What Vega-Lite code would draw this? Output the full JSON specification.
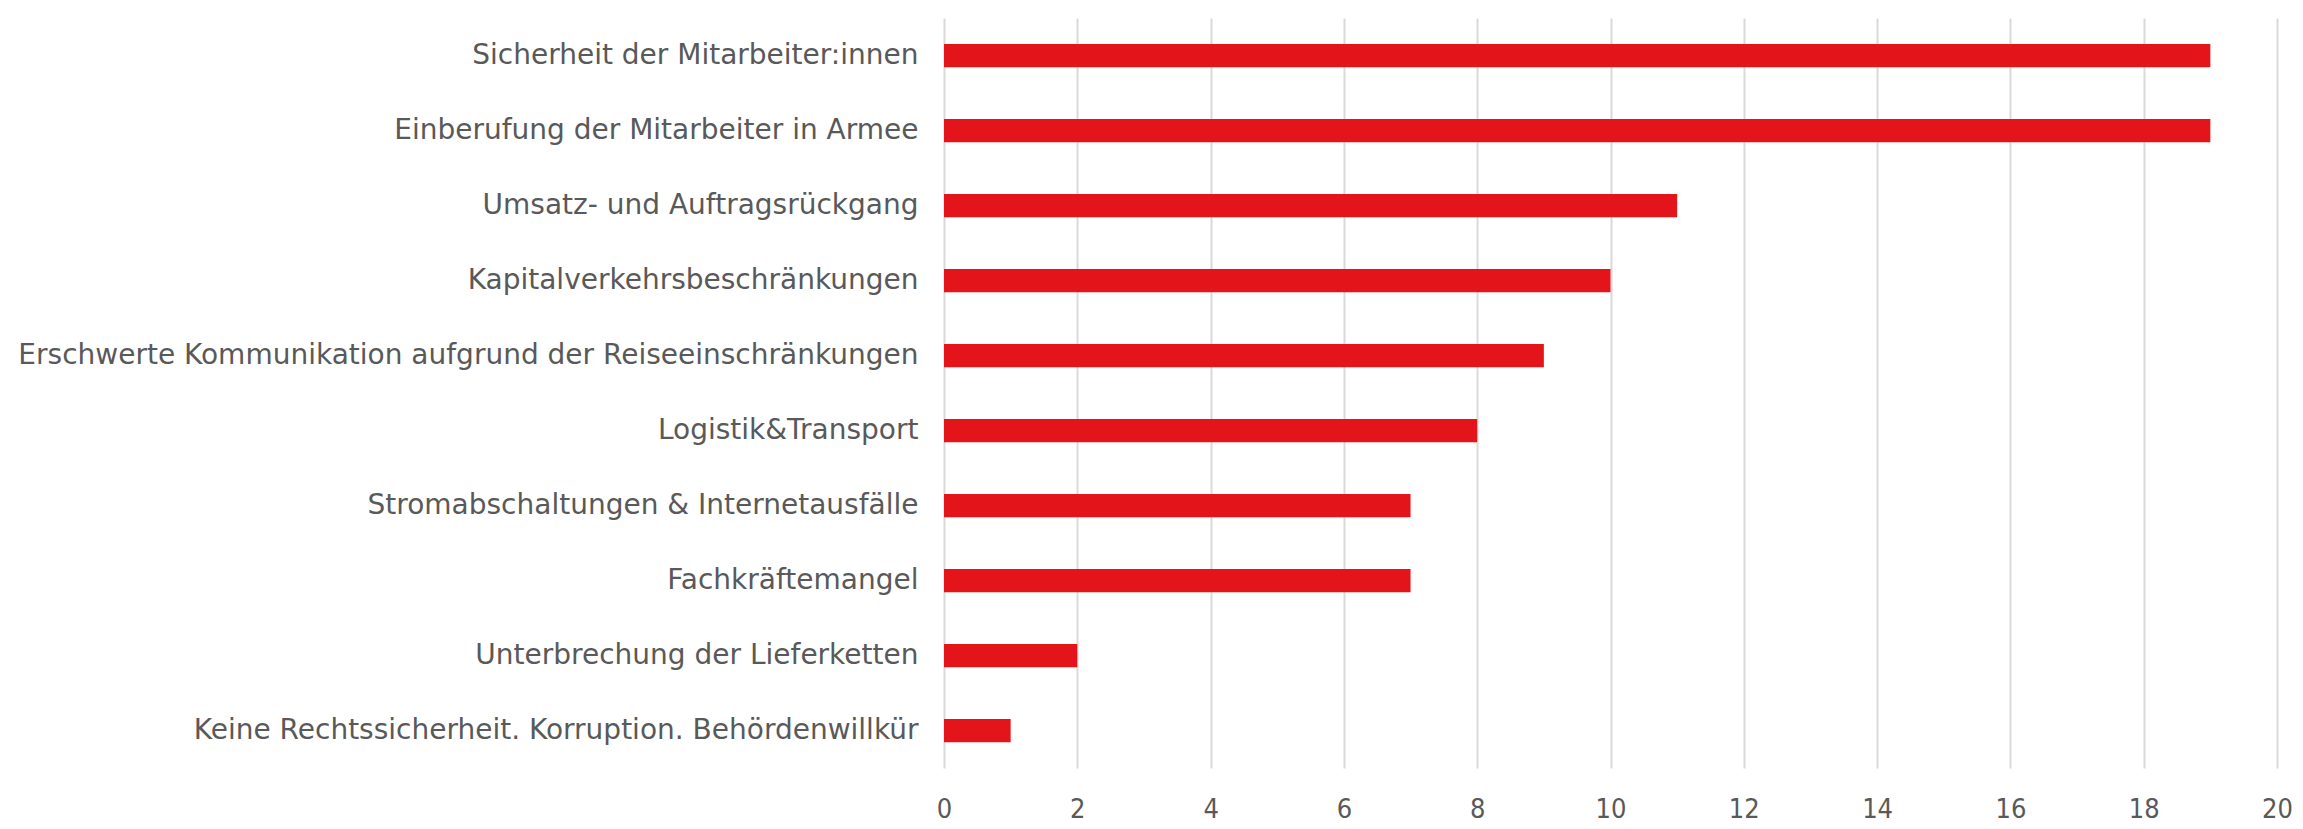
{
  "$schema": "https://vega.github.io/schema/vega-lite/v6.json",
  "width": 1333,
  "height": 750,
  "autosize": {"type": "none"},
  "padding": {"left": 944, "top": 18, "right": 26, "bottom": 61},
  "background": "white",
  "data": {
    "values": [
      {"cat": "Sicherheit der Mitarbeiter:innen", "value": 19},
      {"cat": "Einberufung der Mitarbeiter in Armee", "value": 19},
      {"cat": "Umsatz- und Auftragsrückgang", "value": 11},
      {"cat": "Kapitalverkehrsbeschränkungen", "value": 10},
      {"cat": "Erschwerte Kommunikation aufgrund der Reiseeinschränkungen", "value": 9},
      {"cat": "Logistik&Transport ", "value": 8},
      {"cat": "Stromabschaltungen & Internetausfälle", "value": 7},
      {"cat": "Fachkräftemangel", "value": 7},
      {"cat": "Unterbrechung der Lieferketten", "value": 2},
      {"cat": "Keine Rechtssicherheit. Korruption. Behördenwillkür", "value": 1}
    ]
  },
  "mark": {"type": "bar", "color": "#E3141A"},
  "encoding": {
    "y": {
      "field": "cat",
      "type": "nominal",
      "sort": null,
      "scale": {"paddingInner": 0.69, "paddingOuter": 0.345},
      "axis": {
        "title": null,
        "domain": false,
        "ticks": false,
        "labelPadding": 26,
        "labelFont": "DejaVu Sans",
        "labelFontSize": 28,
        "labelColor": "#595959",
        "labelLimit": 1000
      }
    },
    "x": {
      "field": "value",
      "type": "quantitative",
      "scale": {"domain": [0, 20], "nice": false},
      "axis": {
        "title": null,
        "values": [0, 2, 4, 6, 8, 10, 12, 14, 16, 18, 20],
        "domain": false,
        "ticks": false,
        "grid": true,
        "gridColor": "#D9D9D9",
        "gridWidth": 2,
        "labelPadding": 28,
        "labelFont": "DejaVu Sans Condensed",
        "labelFontSize": 27,
        "labelColor": "#595959",
        "labelFlush": false
      }
    }
  },
  "config": {"view": {"stroke": null}}
}
